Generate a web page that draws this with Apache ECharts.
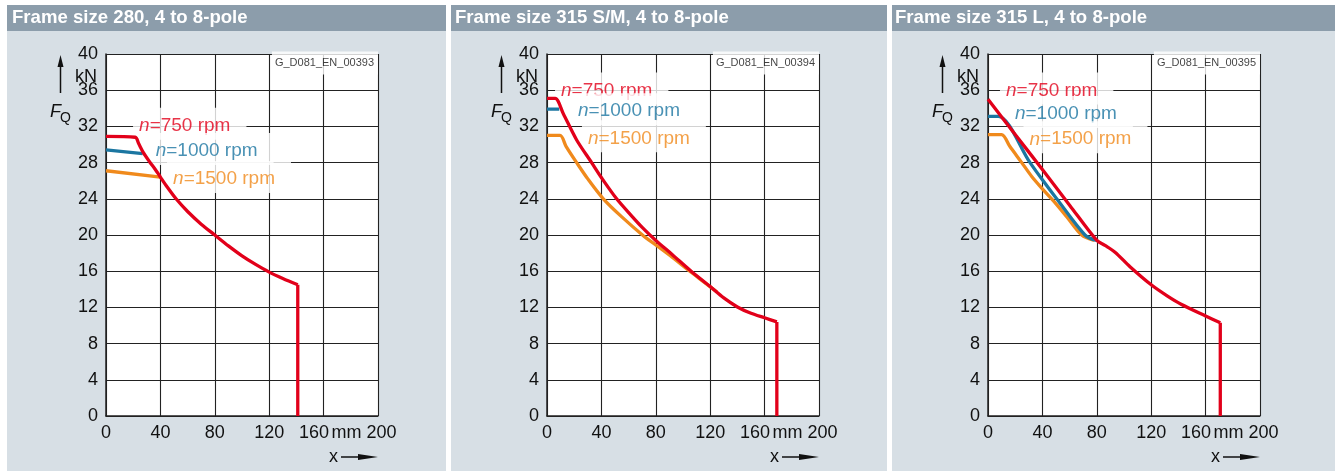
<!DOCTYPE html>
<html>
<head>
<meta charset="utf-8">
<script src="https://cdn.jsdelivr.net/npm/echarts@6/dist/echarts.min.js"></script>
<style>
  html, body { margin: 0; padding: 0; background: #fff; }
  #chart { width: 1335px; height: 472px; }
</style>
</head>
<body>
<div id="chart"></div>
<script>
// Permissible radial force F_Q (kN) over force application point x (mm)
const titles = ['Frame size 280, 4 to 8-pole', 'Frame size 315 S/M, 4 to 8-pole', 'Frame size 315 L, 4 to 8-pole'];
const drawingIds = ['G_D081_EN_00393', 'G_D081_EN_00394', 'G_D081_EN_00395'];
const speeds = [750, 1000, 1500];
const xAxisRange = [0, 200, 40];   // min, max, interval (mm)
const yAxisRange = [0, 40, 4];     // min, max, interval (kN)

// Frame size 280
const fs280_750  = [[0,30.9],[21.5,30.8],[24,30.1],[27.5,29.1],[32,28.1],[36,27.3],[40,26.4],[45,25.3],[51.5,24],[60,22.6],[70,21.2],[80,20],[90,18.8],[100,17.7],[110,16.75],[120,15.9],[130,15.2],[141,14.5],[141,0]];
const fs280_1000 = [[0,29.4],[27,29.0]];
const fs280_1500 = [[0,27.1],[40,26.4]];

// Frame size 315 S/M
const fs315sm_750  = [[0,35.1],[6,35.1],[12,33.4],[21.8,30.5],[32.8,28],[40.2,26.3],[51.2,24],[62,22.15],[70,20.85],[80,19.4],[92,17.85],[106,16],[120,14.3],[130,13.05],[140,12.05],[150,11.35],[160,10.85],[169,10.4],[169,0]];
const fs315sm_1000 = [[0,33.9],[9,33.9]];
const fs315sm_1500 = [[0,31.0],[9.6,31.0],[14,29.8],[21.8,28],[30,26.2],[41.4,24],[55,22.0],[70.6,19.95],[80,18.9],[92,17.55],[105,16.0],[115,14.85],[125,13.7]];

// Frame size 315 L
const fs315l_750  = [[0,35],[20,31.1],[40.7,27.1],[60,23.3],[80,19.4],[86,18.85],[93.4,18.1],[104.4,16.5],[120,14.5],[132,13.25],[142,12.35],[160,11.05],[170.8,10.3],[170.8,0]];
const fs315l_1000 = [[0,33.1],[7.6,33.1],[30.9,28],[40,26.1],[50.5,24],[71.3,20],[79.5,19.4]];
const fs315l_1500 = [[0,31.1],[10,31.1],[16,29.8],[24.8,28],[32,26.5],[40,25.1],[48,23.8],[58,22],[68.9,20],[78,19.4]];

const curves = [
  [fs280_750, fs280_1000, fs280_1500],
  [fs315sm_750, fs315sm_1000, fs315sm_1500],
  [fs315l_750, fs315l_1000, fs315l_1500]
];

// ---- layout and style ----
const FONT = '"Liberation Sans", Arial, Helvetica, sans-serif';
const speedColors = ['#e2001a', '#1b76a1', '#f08a1c'];
const panelFill = '#d7dfe5';
const titleFill = '#8c9dab';
const gridTop = 54, gridH = 362, gridW = 272;
const panels = [
  { left: 7,   right: 446,  gridLeft: 106, titleX: 12 },
  { left: 451, right: 887,  gridLeft: 547, titleX: 455 },
  { left: 892, right: 1335, gridLeft: 988, titleX: 895 }
];
// anchor (left edge of the white label box, in data units) for each speed label
const labelAnchors = [
  [[19.9, 32.3], [32.1, 29.5], [44.9, 26.4]],
  [[5.9, 36.2],  [18.4, 33.9], [25.7, 30.9]],
  [[8.8, 36.2],  [15.4, 33.6], [26.1, 30.8]]
];

const grids = [], xAxes = [], yAxes = [], series = [], graphics = [];

function lineSeries(i, data, color, smooth) {
  return {
    type: 'line', xAxisIndex: i, yAxisIndex: i, z: 3,
    data: data, showSymbol: false, symbol: 'none', smooth: smooth,
    lineStyle: { color: color, width: 3.3, join: 'round', cap: 'butt' },
    silent: true, animation: false
  };
}

panels.forEach((p, i) => {
  const gl = p.gridLeft, gr = gl + gridW;
  grids.push({
    left: gl, top: gridTop, width: gridW, height: gridH,
    show: true, backgroundColor: '#fff', borderWidth: 0,
    containLabel: false, outerBoundsMode: 'none'
  });
  xAxes.push({
    type: 'value', gridIndex: i,
    min: xAxisRange[0], max: xAxisRange[1], interval: xAxisRange[2],
    axisLine: { show: true, onZero: false, lineStyle: { color: '#222', width: 1.5 } },
    axisTick: { show: false },
    splitLine: { show: true, showMinLine: true, showMaxLine: true, lineStyle: { color: '#222', width: 1.1 } },
    axisLabel: {
      fontFamily: FONT, fontSize: 18, color: '#111', margin: 8,
      formatter: v => v === 160 ? '{s|160}' : (v === 200 ? '{e|mm 200}' : String(v)),
      rich: {
        s: { fontFamily: FONT, fontSize: 18, color: '#111', padding: [0, 19, 0, 0] },
        e: { fontFamily: FONT, fontSize: 18, color: '#111', padding: [0, 28, 0, 0] }
      }
    }
  });
  yAxes.push({
    type: 'value', gridIndex: i,
    min: yAxisRange[0], max: yAxisRange[1], interval: yAxisRange[2],
    axisLine: { show: true, lineStyle: { color: '#222', width: 1.5 } },
    axisTick: { show: false },
    splitLine: { show: true, showMinLine: true, showMaxLine: true, lineStyle: { color: '#222', width: 1.1 } },
    axisLabel: { fontFamily: FONT, fontSize: 18, color: '#111', margin: 8 }
  });

  // white label boxes (drawn over the grid lines, under the curves)
  const labelData = speeds.map((n, k) => ({
    value: labelAnchors[i][k],
    label: {
      formatter: '{i|n}=' + n + ' rpm',
      color: speedColors[k],
      rich: { i: { fontStyle: 'italic', fontFamily: FONT, fontSize: 19, color: speedColors[k] } }
    }
  }));
  labelData.push({
    value: [xAxisRange[1], 39.0],
    label: {
      formatter: drawingIds[i], position: 'left', fontSize: 11, color: '#111',
      lineHeight: 14, padding: [2, 4, 7, 3]
    }
  });
  series.push({
    type: 'scatter', xAxisIndex: i, yAxisIndex: i, z: 1,
    symbolSize: 0, silent: true, data: labelData,
    label: {
      show: true, position: 'right', distance: 0,
      fontFamily: FONT, fontSize: 19, lineHeight: 22,
      backgroundColor: '#fff', padding: [7, 16, 3, 6]
    }
  });

  // curves: 1500 and 1000 rpm first, 750 rpm on top; the final drop to zero is a straight edge
  [2, 1, 0].forEach(k => {
    const pts = curves[i][k];
    const last = pts[pts.length - 1];
    if (last[1] === 0) {
      series.push(lineSeries(i, pts.slice(0, -1), speedColors[k], 0.3));
      series.push(lineSeries(i, pts.slice(-2), speedColors[k], false));
    } else {
      series.push(lineSeries(i, pts, speedColors[k], 0.3));
    }
  });

  // panel background and title bar
  graphics.push(
    { type: 'rect', z: -10, shape: { x: p.left, y: 5, width: p.right - p.left, height: 466 }, style: { fill: panelFill } },
    { type: 'rect', z: -9, shape: { x: p.left, y: 5, width: p.right - p.left, height: 26 }, style: { fill: titleFill } },
    { type: 'text', z: 5, x: p.titleX, y: 18, style: { text: titles[i], fill: '#fff', font: 'bold 18.6px ' + FONT, verticalAlign: 'middle' } },
    // y-axis unit and quantity symbol with upward arrow
    { type: 'text', z: 5, x: gl - 9, y: 77, style: { text: 'kN', fill: '#111', font: '18px ' + FONT, align: 'right', verticalAlign: 'middle' } },
    { type: 'text', z: 5, x: gl - 56, y: 112, style: { text: 'F', fill: '#111', font: 'italic 18px ' + FONT, verticalAlign: 'middle' } },
    { type: 'text', z: 5, x: gl - 46, y: 118, style: { text: 'Q', fill: '#111', font: '14px ' + FONT, verticalAlign: 'middle' } },
    { type: 'line', z: 5, shape: { x1: gl - 45.5, y1: 66, x2: gl - 45.5, y2: 93 }, style: { stroke: '#111', lineWidth: 1.5 } },
    { type: 'polygon', z: 5, shape: { points: [[gl - 48.5, 67], [gl - 45.5, 55], [gl - 42.5, 67]] }, style: { fill: '#111' } },
    // x-axis quantity symbol with arrow
    { type: 'text', z: 5, x: gr - 49, y: 457, style: { text: 'x', fill: '#111', font: '18px ' + FONT, verticalAlign: 'middle' } },
    { type: 'line', z: 5, shape: { x1: gr - 37, y1: 457, x2: gr - 16, y2: 457 }, style: { stroke: '#111', lineWidth: 1.5 } },
    { type: 'polygon', z: 5, shape: { points: [[gr - 20, 454], [gr, 457], [gr - 20, 460]] }, style: { fill: '#111' } }
  );
});

const chart = echarts.init(document.getElementById('chart'), null, { renderer: 'canvas' });
chart.setOption({
  backgroundColor: '#fff',
  animation: false,
  textStyle: { fontFamily: FONT },
  grid: grids,
  xAxis: xAxes,
  yAxis: yAxes,
  series: series,
  graphic: graphics
});
</script>
</body>
</html>
